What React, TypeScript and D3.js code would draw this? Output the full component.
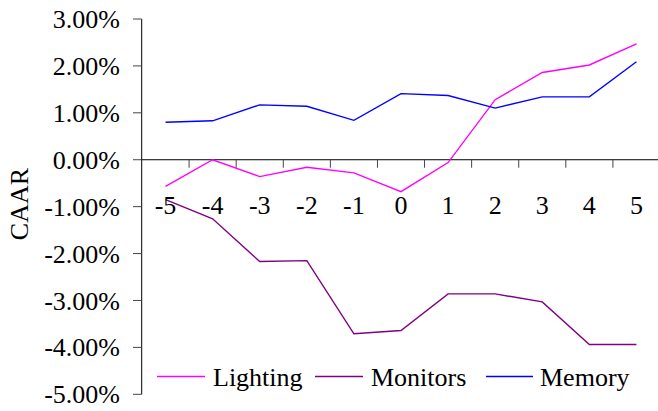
import React from "react";
import * as d3 from "d3";

const categories = ["-5", "-4", "-3", "-2", "-1", "0", "1", "2", "3", "4", "5"];
const lighting = [-0.57, 0.0, -0.36, -0.16, -0.28, -0.68, -0.06, 1.28, 1.86, 2.02, 2.47];
const monitors = [-0.85, -1.26, -2.17, -2.15, -3.71, -3.64, -2.86, -2.86, -3.03, -3.94, -3.94];
const memory = [0.8, 0.83, 1.17, 1.14, 0.84, 1.41, 1.37, 1.1, 1.34, 1.34, 2.09];
const yTicks = [3, 2, 1, 0, -1, -2, -3, -4, -5];
const seriesNames = ["Lighting", "Monitors", "Memory"];
const seriesColors = ["#FF00FF", "#800080", "#0000FF"];

const W = 658;
const H = 411;
const FONT = "'Liberation Serif', 'Times New Roman', serif";

export default function App() {
  const x = d3.scaleBand<string>().domain(categories).range([142, 660]);
  const y = d3.scaleLinear().domain([-5, 3]).range([394.3, 19]);
  const cx = (c: string) => (x(c) as number) + x.bandwidth() / 2;
  const line = d3
    .line<number>()
    .x((_, i) => cx(categories[i]))
    .y((d) => y(d));
  const allSeries = [lighting, monitors, memory];
  const legendLines = [
    { x1: 157, x2: 205, tx: 213 },
    { x1: 315, x2: 363, tx: 371 },
    { x1: 486, x2: 533, tx: 540 },
  ];
  const tickXs = categories.map((c) => x(c) as number).concat([x.range()[1]]);
  return (
    <svg
      width={W}
      height={H}
      style={{ position: "absolute", left: 0, top: 0, background: "#fff" }}
      fontFamily={FONT}
    >
      <rect width={W} height={H} fill="#fff" />
      {/* y axis */}
      <line x1={141.7} x2={141.7} y1={y(3)} y2={y(-5)} stroke="#000" strokeWidth={1} />
      {yTicks.map((t) => (
        <g key={t}>
          <line x1={133} x2={141.7} y1={y(t)} y2={y(t)} stroke="#444" strokeWidth={1} />
          <text x={120} y={y(t)} dy="0.35em" textAnchor="end" fontSize={26} fill="#000">
            {t.toFixed(2) + "%"}
          </text>
        </g>
      ))}
      {/* x axis */}
      <line x1={141.7} x2={658} y1={y(0)} y2={y(0)} stroke="#000" strokeWidth={1} />
      {tickXs.slice(1, 11).map((tx, i) => (
        <line key={i} x1={tx} x2={tx} y1={y(0)} y2={y(0) + 8} stroke="#444" strokeWidth={1} />
      ))}
      {allSeries.map((s, i) => (
        <path key={i} d={line(s) || ""} fill="none" stroke={seriesColors[i]} strokeWidth={1.4} />
      ))}
      {categories.map((c) => (
        <text key={c} x={cx(c)} y={214} textAnchor="middle" fontSize={26} fill="#000">
          {c}
        </text>
      ))}
      <text
        transform={`translate(28,204) rotate(-90)`}
        textAnchor="middle"
        fontSize={26}
        fill="#000"
      >
        CAAR
      </text>
      {seriesNames.map((n, i) => (
        <g key={n}>
          <line
            x1={legendLines[i].x1}
            x2={legendLines[i].x2}
            y1={376.5}
            y2={376.5}
            stroke={seriesColors[i]}
            strokeWidth={1.4}
          />
          <text x={legendLines[i].tx} y={386} fontSize={26} fill="#000">
            {n}
          </text>
        </g>
      ))}
    </svg>
  );
}
